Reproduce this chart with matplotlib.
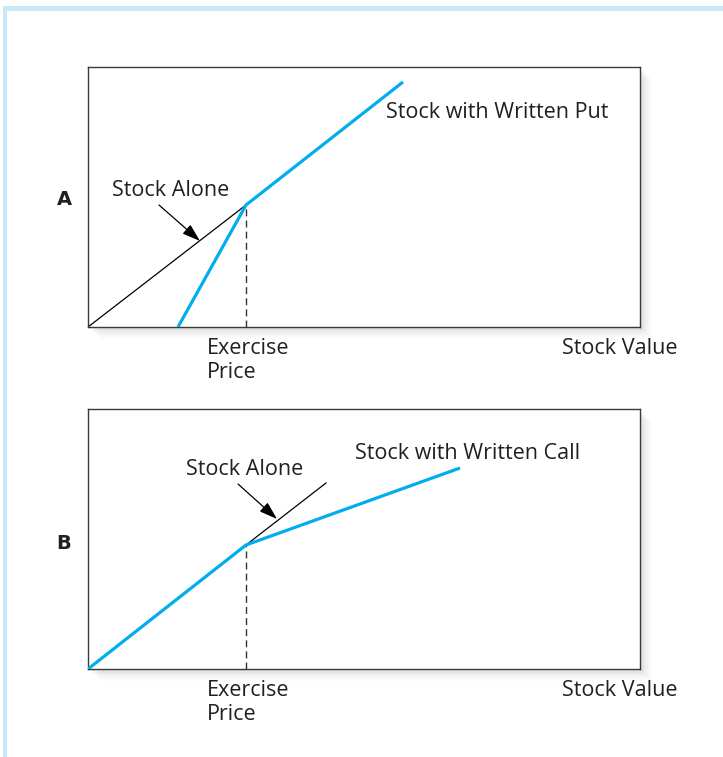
import matplotlib
matplotlib.use("Agg")
import matplotlib.pyplot as plt
from matplotlib.patches import Rectangle

plt.rcParams['font.family'] = ['Open Sans', 'DejaVu Sans']

W, H = 723, 757
BLUE = '#00aeef'
TXT = '#231f20'
FS = 15.5

# ---- data (units: axis pixels, origin at lower-left of each panel) ----
xlim = (0, 552)
ylim = (0, 260)
exercise_x = 158

# Panel A
stock_alone_A_x = [0, 158]
stock_alone_A_y = [0, 122]
written_put_x = [90, 158, 315]
written_put_y = [0, 122, 245]
knee_A_y = 122

# Panel B
stock_alone_B_x = [158, 238]
stock_alone_B_y = [124, 186]
written_call_x = [0, 158, 372]
written_call_y = [0, 124, 201]
knee_B_y = 124

fig = plt.figure(figsize=(W / 100, H / 100), dpi=100)
fig.patch.set_facecolor('white')

def fx(px):
    return px / W

def fy(py):
    return 1 - py / H

# light blue frame
fig.add_artist(Rectangle((fx(3), fy(757)), fx(7) - fx(3), fy(6) - fy(757),
                         transform=fig.transFigure, color='#c8e9fa', lw=0, zorder=0))
fig.add_artist(Rectangle((fx(3), fy(11)), 1 - fx(3), fy(6) - fy(11),
                         transform=fig.transFigure, color='#c8e9fa', lw=0, zorder=0))

def make_axes(top, bottom):
    left, right = 88, 640
    for i, a in enumerate([0.035, 0.03, 0.025, 0.02, 0.015, 0.01]):
        d = 2 + i * 2
        fig.add_artist(Rectangle((fx(left + d), fy(bottom + d)), fx(right - left), fy(top) - fy(bottom),
                                 transform=fig.transFigure, color='black', alpha=a, lw=0, zorder=0))
    ax = fig.add_axes([fx(left), fy(bottom), fx(right - left), fy(top) - fy(bottom)])
    ax.set_xlim(*xlim)
    ax.set_ylim(*ylim)
    ax.set_xticks([])
    ax.set_yticks([])
    for s in ax.spines.values():
        s.set_color('#3a3a3a')
        s.set_linewidth(1.0)
    ax.set_facecolor('white')
    return ax

arrow_kw = dict(arrowstyle='-|>,head_length=0.55,head_width=0.18', color='black',
                lw=0.9, mutation_scale=20, shrinkA=0, shrinkB=0)

axA = make_axes(67, 327)
axA.plot(stock_alone_A_x, stock_alone_A_y, color='black', lw=0.9, zorder=2)
axA.plot(written_put_x, written_put_y, color=BLUE, lw=2.3, zorder=3, solid_capstyle='butt')
axA.plot([exercise_x, exercise_x], [0, knee_A_y], color='#333333', lw=1.0,
         dashes=(5, 3), zorder=1)
axA.annotate('', xy=(112, 86), xytext=(71, 122), arrowprops=arrow_kw)
axA.text(24, 131, 'Stock Alone', fontsize=FS, color=TXT, ha='left', va='baseline')
axA.text(298, 209, 'Stock with Written Put', fontsize=FS, color=TXT, ha='left', va='baseline')

axB = make_axes(409, 669)
axB.plot(stock_alone_B_x, stock_alone_B_y, color='black', lw=0.9, zorder=2)
axB.plot(written_call_x, written_call_y, color=BLUE, lw=2.3, zorder=3, solid_capstyle='butt')
axB.plot([exercise_x, exercise_x], [0, knee_B_y], color='#333333', lw=1.0,
         dashes=(5, 3), zorder=1)
axB.annotate('', xy=(189, 150), xytext=(150, 185), arrowprops=arrow_kw)
axB.text(98, 194, 'Stock Alone', fontsize=FS, color=TXT, ha='left', va='baseline')
axB.text(267, 210, 'Stock with Written Call', fontsize=FS, color=TXT, ha='left', va='baseline')

# panel letters and axis labels
fig.text(fx(64), fy(205), 'A', fontsize=14, fontweight='bold', color=TXT,
         ha='center', va='baseline', family=['DejaVu Sans'])
fig.text(fx(64), fy(549), 'B', fontsize=14, fontweight='bold', color=TXT,
         ha='center', va='baseline', family=['DejaVu Sans'])

for off in (0, 342):
    fig.text(fx(207), fy(353.5 + off), 'Exercise', fontsize=FS, color=TXT,
             ha='left', va='baseline')
    fig.text(fx(207), fy(378 + off), 'Price', fontsize=FS, color=TXT,
             ha='left', va='baseline')
    fig.text(fx(677), fy(353.5 + off), 'Stock Value', fontsize=FS, color=TXT,
             ha='right', va='baseline')

fig.savefig('out.png', dpi=100)
